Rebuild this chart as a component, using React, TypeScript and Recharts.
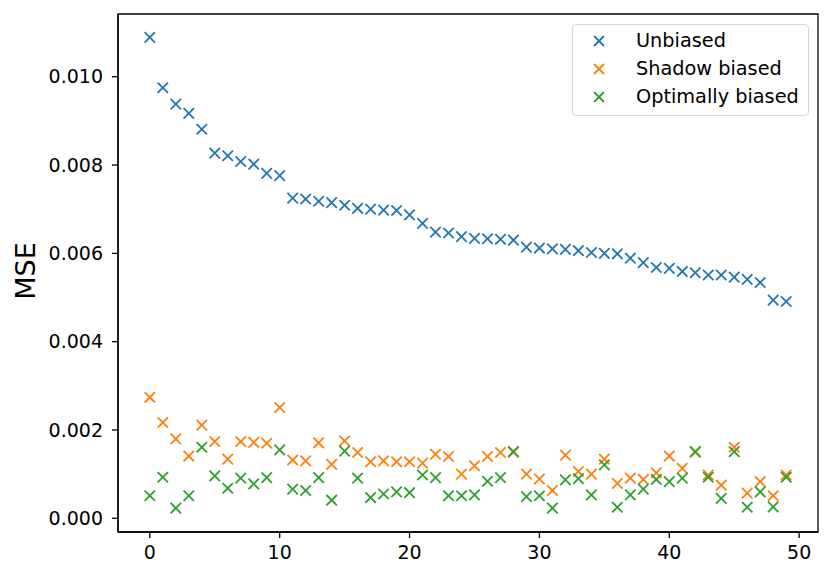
import React from 'react';
import { ScatterChart, Scatter, XAxis, YAxis, Legend, ReferenceArea } from 'recharts';

const indices = Array.from({ length: 50 }, (_, i) => i);

const unbiased = [
  0.01089, 0.00975, 0.00938, 0.00917, 0.00881, 0.00827, 0.00821, 0.00808, 0.00802, 0.00781,
  0.00776, 0.00725, 0.00723, 0.00718, 0.00715, 0.00709, 0.00702, 0.00700, 0.00698, 0.00697,
  0.00687, 0.00668, 0.00648, 0.00646, 0.00638, 0.00634, 0.00633, 0.00632, 0.00630, 0.00614,
  0.00612, 0.00610, 0.00609, 0.00606, 0.00602, 0.00600, 0.00599, 0.00589, 0.00579, 0.00568,
  0.00566, 0.00559, 0.00556, 0.00551, 0.00551, 0.00546, 0.00541, 0.00534, 0.00494, 0.00491,
];

const shadowBiased = [
  0.00274, 0.00217, 0.00180, 0.00141, 0.00211, 0.00174, 0.00134, 0.00174, 0.00172, 0.00170,
  0.00251, 0.00132, 0.00130, 0.00171, 0.00122, 0.00175, 0.00149, 0.00128, 0.00130, 0.00128,
  0.00128, 0.00125, 0.00145, 0.00140, 0.00100, 0.00119, 0.00140, 0.00149, 0.00150, 0.00100,
  0.00089, 0.00063, 0.00143, 0.00106, 0.00100, 0.00134, 0.00079, 0.00091, 0.00088, 0.00103,
  0.00141, 0.00113, 0.00150, 0.00098, 0.00075, 0.00161, 0.00057, 0.00083, 0.00051, 0.00098,
];

const optimallyBiased = [
  0.00051, 0.00093, 0.00023, 0.00051, 0.00161, 0.00096, 0.00068, 0.00091, 0.00078, 0.00092,
  0.00155, 0.00066, 0.00063, 0.00092, 0.00041, 0.00152, 0.00091, 0.00047, 0.00055, 0.00060,
  0.00058, 0.00098, 0.00092, 0.00051, 0.00051, 0.00053, 0.00084, 0.00092, 0.00151, 0.00049,
  0.00051, 0.00023, 0.00087, 0.00090, 0.00053, 0.00121, 0.00025, 0.00053, 0.00066, 0.00088,
  0.00083, 0.00091, 0.00151, 0.00093, 0.00045, 0.00151, 0.00025, 0.00060, 0.00026, 0.00093,
];

const seriesNames = ['Unbiased', 'Shadow biased', 'Optimally biased'];
const seriesColors = ['#1f77b4', '#ff7f0e', '#2ca02c'];
const seriesValues = [unbiased, shadowBiased, optimallyBiased];

const xTicks = [0, 10, 20, 30, 40, 50];
const yTicks = [0, 0.002, 0.004, 0.006, 0.008, 0.01];
const xDomain: [number, number] = [-2.45, 51.45];
const yDomain: [number, number] = [-0.00031, 0.01142];

const FONT = 'DejaVu Sans, Liberation Sans, sans-serif';

const toPoints = (vals: number[]) => indices.map((i) => ({ x: i, y: vals[i] }));

const makeShape = (color: string) => (props: any) => {
  const { cx, cy } = props;
  if (cx == null || cy == null) return <g />;
  const r = 5.2;
  return (
    <g>
      <line x1={cx - r} y1={cy - r} x2={cx + r} y2={cy + r} stroke={color} strokeWidth={1.8} />
      <line x1={cx - r} y1={cy + r} x2={cx + r} y2={cy - r} stroke={color} strokeWidth={1.8} />
    </g>
  );
};

const LegendBox = () => (
  <div
    style={{
      position: 'relative',
      width: 235,
      height: 90,
      border: '1px solid #d6d6d6',
      borderRadius: 4,
      background: 'rgba(255,255,255,0.8)',
      fontFamily: FONT,
      fontSize: 19,
      color: '#000',
    }}
  >
    {seriesNames.map((name, i) => (
      <div
        key={name}
        style={{ position: 'absolute', left: 0, top: 2 + i * 28.2, height: 28, width: 235 }}
      >
        <svg width={14} height={14} style={{ position: 'absolute', left: 19, top: 7 }}>
          <line x1={2} y1={2} x2={12} y2={12} stroke={seriesColors[i]} strokeWidth={1.8} />
          <line x1={2} y1={12} x2={12} y2={2} stroke={seriesColors[i]} strokeWidth={1.8} />
        </svg>
        <span style={{ position: 'absolute', left: 63, top: 2, lineHeight: '24px', whiteSpace: 'nowrap', fontSize: 19.3 }}>
          {name}
        </span>
      </div>
    ))}
  </div>
);

const tickStyle = { fill: '#000', fontSize: 19, fontFamily: FONT };

export default function App() {
  return (
    <div style={{ position: 'absolute', left: 0, top: 0, width: 830, height: 579, background: '#fff' }}>
      <ScatterChart width={830} height={579} margin={{ top: 14, right: 12, bottom: 0, left: 0 }}>
        <XAxis
          type="number"
          dataKey="x"
          domain={xDomain}
          ticks={xTicks}
          allowDataOverflow
          height={47}
          tickSize={6}
          tickMargin={8}
          axisLine={{ stroke: '#000', strokeWidth: 1.3 }}
          tickLine={{ stroke: '#000', strokeWidth: 1.3 }}
          tick={tickStyle}
        />
        <YAxis
          type="number"
          dataKey="y"
          domain={yDomain}
          ticks={yTicks}
          allowDataOverflow
          width={118}
          tickSize={6}
          tickMargin={9}
          tickFormatter={(v: number) => v.toFixed(3)}
          axisLine={{ stroke: '#000', strokeWidth: 1.3 }}
          tickLine={{ stroke: '#000', strokeWidth: 1.3 }}
          tick={tickStyle}
          label={{
            content: () => (
              <text
                x={25}
                y={271}
                transform="rotate(-90 25 271)"
                textAnchor="middle"
                dominantBaseline="central"
                fontSize={27}
                fontFamily={FONT}
                fill="#000"
              >
                MSE
              </text>
            ),
          }}
        />
        <ReferenceArea
          x1={xDomain[0]}
          x2={xDomain[1]}
          y1={yDomain[0]}
          y2={yDomain[1]}
          fill="none"
          fillOpacity={0}
          stroke="#000"
          strokeWidth={1.3}
          ifOverflow="visible"
        />
        {seriesValues.map((vals, i) => (
          <Scatter
            key={seriesNames[i]}
            name={seriesNames[i]}
            data={toPoints(vals)}
            fill={seriesColors[i]}
            shape={makeShape(seriesColors[i])}
            isAnimationActive={false}
          />
        ))}
        <Legend
          layout="vertical"
          align="center"
          verticalAlign="middle"
          content={() => <LegendBox />}
          wrapperStyle={{ position: 'absolute', left: 572, top: 24, width: 237, height: 92 }}
        />
      </ScatterChart>
    </div>
  );
}
